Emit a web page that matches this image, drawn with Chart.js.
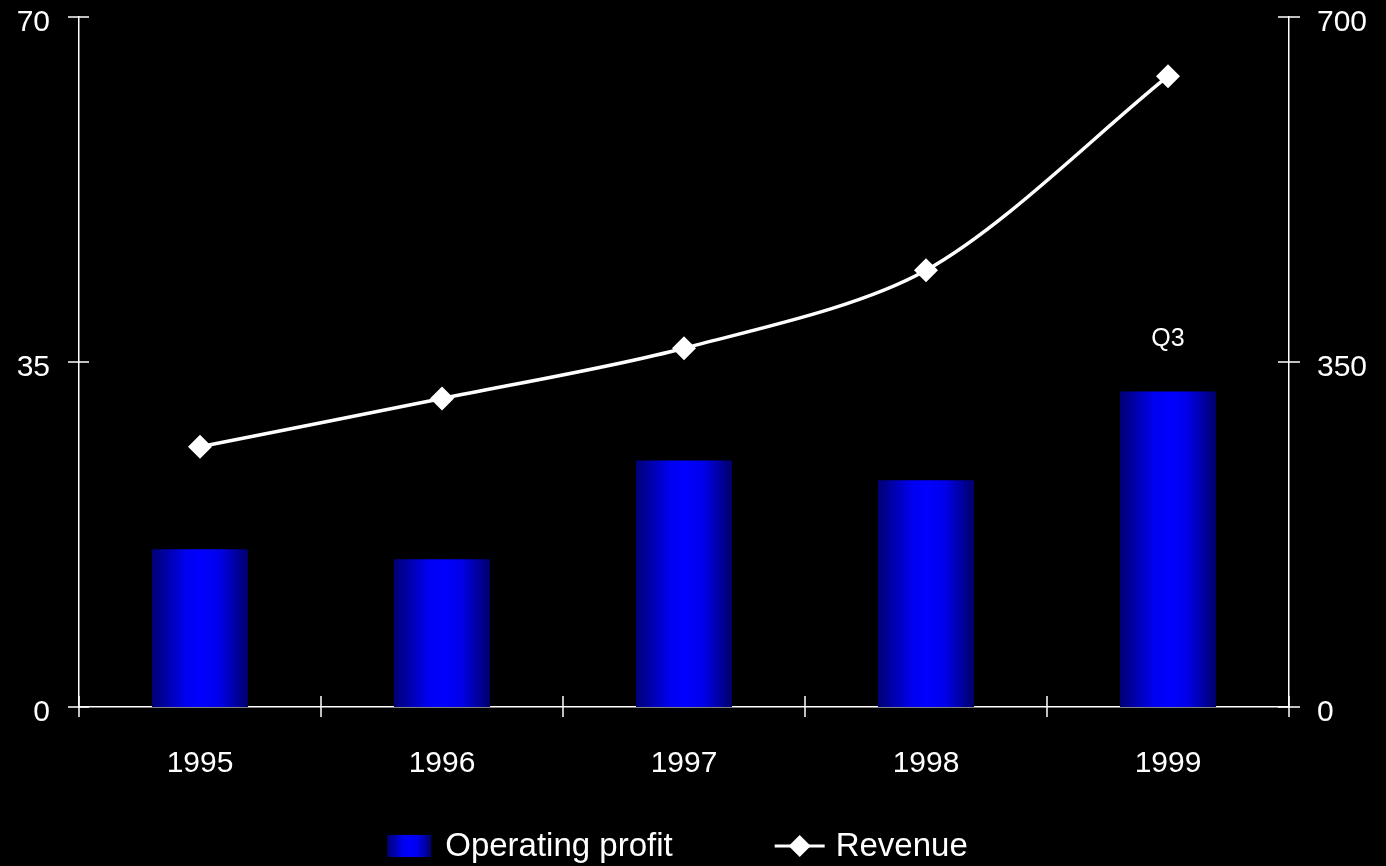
<!DOCTYPE html>
<html>
<head>
<meta charset="utf-8">
<script src="https://cdn.jsdelivr.net/npm/chart.js@4.4.1/dist/chart.umd.min.js"></script>
<style>
  html, body { margin: 0; padding: 0; background: #000; overflow: hidden; }
  #wrap { width: 1386px; height: 866px; }
  canvas { display: block; }
</style>
</head>
<body>
<div id="wrap"><canvas id="c" width="1386" height="866"></canvas></div>
<script>
// Data
const years = ['1995', '1996', '1997', '1998', '1999'];
const operatingProfit = [16, 15, 25, 23, 32];
const revenue = [264, 313, 364, 443, 640];
const barNotes = ['', '', '', '', 'Q3'];
const profitTicks = [0, 35, 70];
const revenueTicks = [0, 350, 700];

const FONT = '"Liberation Sans", Arial, Helvetica, sans-serif';
const BAR_FRACTION = 0.397;

function blueGradient(c, x0, x1) {
  const g = c.createLinearGradient(x0, 0, x1, 0);
  g.addColorStop(0, '#000074');
  g.addColorStop(0.36, '#0000f2');
  g.addColorStop(0.52, '#0000ff');
  g.addColorStop(0.7, '#0000ea');
  g.addColorStop(1, '#00006a');
  return g;
}

function barFill(context) {
  const chart = context.chart;
  const xs = chart.scales.x;
  if (!xs || context.dataIndex === undefined) return '#0000ff';
  const cx = xs.getPixelForValue(context.dataIndex);
  const w = (xs.width / years.length) * BAR_FRACTION;
  if (!isFinite(cx) || !isFinite(w) || w <= 0) return '#0000ff';
  return blueGradient(chart.ctx, cx - w / 2, cx + w / 2);
}

// Vertical axes: fixed width, no extra room reserved above/below for labels
function fixVertical(width) {
  return function (s) {
    s.width = width;
    s.paddingTop = 0;
    s.paddingBottom = 0;
  };
}

// Black page background
const background = {
  id: 'background',
  beforeDraw(chart) {
    const c = chart.ctx;
    c.save();
    c.fillStyle = '#000';
    c.fillRect(0, 0, chart.width, chart.height);
    c.restore();
  }
};

// Tick marks that cross the axis lines
const axisMarks = {
  id: 'axisMarks',
  afterDraw(chart) {
    const { ctx: c, chartArea: a, scales } = chart;
    const x = scales.x, y = scales.y, y2 = scales.y2;
    c.save();
    c.strokeStyle = '#ffffff';
    c.lineWidth = 1.5;
    c.beginPath();
    y.ticks.forEach(t => {
      const py = y.getPixelForValue(t.value);
      c.moveTo(a.left - 11, py); c.lineTo(a.left + 10, py);
    });
    y2.ticks.forEach(t => {
      const py = y2.getPixelForValue(t.value);
      c.moveTo(a.right - 11, py); c.lineTo(a.right + 11, py);
    });
    for (let i = 0; i <= years.length; i++) {
      let px;
      if (i === 0) px = a.left;
      else if (i === years.length) px = a.right;
      else px = (x.getPixelForValue(i - 1) + x.getPixelForValue(i)) / 2;
      c.moveTo(px, a.bottom - 11); c.lineTo(px, a.bottom + 10);
    }
    c.stroke();
    c.restore();
  }
};

// Notes written above bars
const barNoteLabels = {
  id: 'barNoteLabels',
  afterDatasetsDraw(chart) {
    const meta = chart.getDatasetMeta(0);
    const c = chart.ctx;
    c.save();
    c.fillStyle = '#ffffff';
    c.font = '25px ' + FONT;
    c.textAlign = 'center';
    c.textBaseline = 'middle';
    meta.data.forEach((bar, i) => {
      if (barNotes[i]) c.fillText(barNotes[i], bar.x, bar.y - 52);
    });
    c.restore();
  }
};

// Legend under the axis
const bottomLegend = {
  id: 'bottomLegend',
  afterDraw(chart) {
    const c = chart.ctx;
    const ds = chart.data.datasets;
    const cy = 846;
    c.save();
    c.font = '33px ' + FONT;
    c.textBaseline = 'middle';
    c.textAlign = 'left';
    const symW = [44, 50];
    const symGap = 14;
    const itemGap = 102;
    const widths = ds.map((d, i) => symW[i] + symGap + c.measureText(d.label).width);
    const total = widths[0] + itemGap + widths[1];
    let x0 = 679 - total / 2;
    // bar item
    c.fillStyle = blueGradient(c, x0, x0 + symW[0]);
    c.fillRect(x0, cy - 11, symW[0], 22);
    c.fillStyle = '#ffffff';
    c.fillText(ds[0].label, x0 + symW[0] + symGap, cy + 1);
    // line item
    x0 += widths[0] + itemGap;
    c.strokeStyle = '#ffffff';
    c.lineWidth = 3;
    c.beginPath();
    c.moveTo(x0, cy); c.lineTo(x0 + symW[1], cy);
    c.stroke();
    const mx = x0 + symW[1] / 2, r = 11;
    c.beginPath();
    c.moveTo(mx - r, cy); c.lineTo(mx, cy - r); c.lineTo(mx + r, cy); c.lineTo(mx, cy + r);
    c.closePath();
    c.fill();
    c.fillText(ds[1].label, x0 + symW[1] + symGap - 3, cy + 1);
    c.restore();
  }
};

const tickFont = { family: FONT, size: 30, lineHeight: 1 };

new Chart(document.getElementById('c'), {
  type: 'bar',
  data: {
    labels: years,
    datasets: [
      {
        type: 'bar',
        label: 'Operating profit',
        data: operatingProfit,
        yAxisID: 'y',
        backgroundColor: barFill,
        borderWidth: 0,
        categoryPercentage: 1,
        barPercentage: BAR_FRACTION,
        order: 1
      },
      {
        type: 'line',
        label: 'Revenue',
        data: revenue,
        yAxisID: 'y2',
        borderColor: '#ffffff',
        borderWidth: 3.5,
        tension: 0.3,
        pointStyle: 'rectRot',
        pointRadius: 12,
        pointHoverRadius: 12,
        pointBackgroundColor: '#ffffff',
        pointBorderWidth: 0,
        fill: false,
        order: 0
      }
    ]
  },
  options: {
    responsive: false,
    animation: false,
    devicePixelRatio: 1,
    layout: { padding: { top: 17, left: 0, right: 0, bottom: 0 } },
    plugins: {
      legend: { display: false },
      tooltip: { enabled: false }
    },
    scales: {
      x: {
        offset: true,
        grid: { display: false, drawTicks: false },
        border: { display: true, color: '#ffffff', width: 1.5 },
        ticks: { color: '#ffffff', font: tickFont, padding: 42, maxRotation: 0 },
        afterFit(s) { s.height = 159; }
      },
      y: {
        position: 'left',
        min: 0,
        max: 70,
        afterBuildTicks(s) { s.ticks = profitTicks.map(v => ({ value: v })); },
        grid: { display: false, drawTicks: false },
        border: { display: true, color: '#ffffff', width: 1.5 },
        ticks: { color: '#ffffff', font: tickFont, padding: 29, labelOffset: 6 },
        afterFit: fixVertical(79)
      },
      y2: {
        position: 'right',
        min: 0,
        max: 700,
        afterBuildTicks(s) { s.ticks = revenueTicks.map(v => ({ value: v })); },
        grid: { display: false, drawTicks: false },
        border: { display: true, color: '#ffffff', width: 1.5 },
        ticks: { color: '#ffffff', font: tickFont, padding: 28, labelOffset: 6 },
        afterFit: fixVertical(97)
      }
    }
  },
  plugins: [background, axisMarks, barNoteLabels, bottomLegend]
});
</script>
</body>
</html>
